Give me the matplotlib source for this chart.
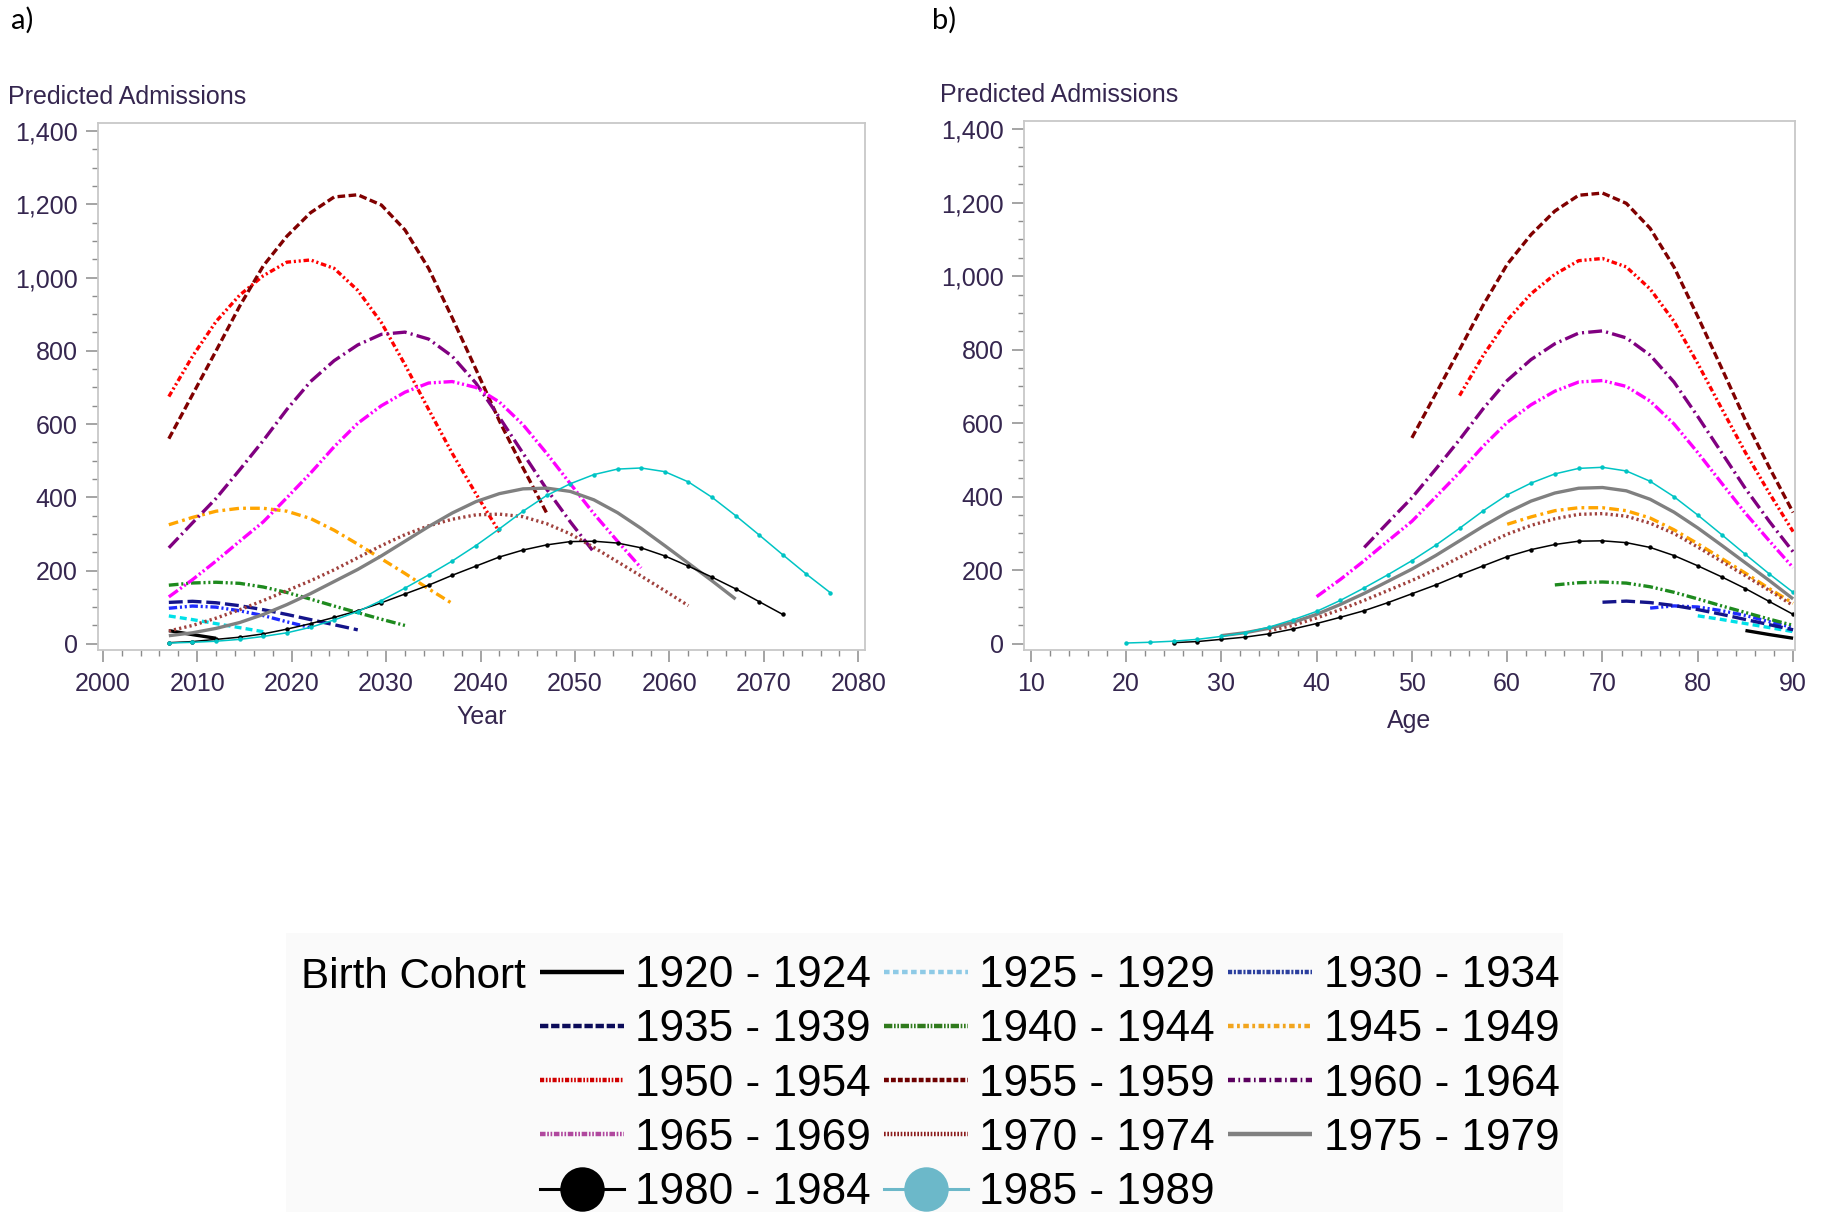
import numpy as np
import matplotlib
matplotlib.use("Agg")
import matplotlib.pyplot as plt
from matplotlib.lines import Line2D
from matplotlib.patches import Rectangle
from matplotlib.ticker import MultipleLocator, FuncFormatter

# ==========================================================
# DATA
# ==========================================================

COHORTS = ["1920 - 1924", "1925 - 1929", "1930 - 1934", "1935 - 1939",
           "1940 - 1944", "1945 - 1949", "1950 - 1954", "1955 - 1959",
           "1960 - 1964", "1965 - 1969", "1970 - 1974", "1975 - 1979",
           "1980 - 1984", "1985 - 1989"]

# birth-year midpoint of each cohort (age + mid = calendar year)
MID = [1922, 1927, 1932, 1937, 1942, 1947, 1952, 1957,
       1962, 1967, 1972, 1977, 1982, 1987]

AGES = [20, 22.5, 25, 27.5, 30, 32.5, 35, 37.5, 40, 42.5, 45, 47.5, 50,
        52.5, 55, 57.5, 60, 62.5, 65, 67.5, 70, 72.5, 75, 77.5, 80, 82.5,
        85, 87.5, 90]

# predicted admissions, aligned to the last ages of AGES
c1920 = [36, 25, 15]
c1925 = [76, 66, 55, 44, 33]
c1930 = [97, 103, 100, 90, 77, 60, 44]
c1935 = [113, 116, 112, 104, 93, 80, 66, 52, 38]
c1940 = [160, 166, 168, 165, 155, 140, 122, 103, 85, 67, 50]
c1945 = [325, 345, 362, 370, 370, 362, 342, 310, 272, 232, 192, 150, 110]
c1950 = [675, 785, 880, 952, 1005, 1042, 1048, 1025, 965, 877, 762, 640,
         520, 410, 305]
c1955 = [560, 680, 800, 922, 1032, 1113, 1177, 1220, 1226, 1198, 1130,
         1025, 890, 750, 608, 480, 357]
c1960 = [262, 330, 397, 475, 555, 640, 716, 773, 816, 845, 851, 832, 785,
         712, 618, 520, 422, 333, 250]
c1965 = [128, 175, 226, 280, 333, 399, 466, 538, 602, 650, 687, 712, 716,
         700, 660, 598, 520, 437, 355, 280, 207]
c1970 = [35, 50, 70, 93, 118, 145, 172, 202, 235, 268, 298, 322, 340, 352,
         354, 347, 328, 300, 263, 224, 185, 145, 104]
c1975 = [22, 30, 42, 58, 80, 107, 137, 170, 203, 240, 280, 320, 357, 388,
         410, 423, 425, 416, 393, 358, 315, 268, 220, 172, 122]
c1980 = [3, 6, 12, 18, 27, 40, 55, 72, 90, 112, 136, 160, 187, 212, 237,
         256, 270, 279, 280, 275, 262, 240, 212, 182, 150, 115, 80]
c1985 = [2, 4, 7, 12, 20, 30, 45, 65, 88, 118, 152, 188, 226, 268, 314,
         362, 405, 437, 462, 477, 480, 470, 442, 400, 350, 297, 243, 190, 140]

VALUES = [c1920, c1925, c1930, c1935, c1940, c1945, c1950, c1955,
          c1960, c1965, c1970, c1975, c1980, c1985]

# ==========================================================
# STYLES
# ==========================================================

PLOT_COLORS = ["#000000", "#00e0e8", "#1f2cff", "#14148a", "#1e8a1e",
               "#ffa500", "#ff0000", "#800000", "#800080", "#ff00ff",
               "#a0413d", "#808080", "#000000", "#00c4c4"]

LEG_COLORS = ["#000000", "#8ecae6", "#2b3f9e", "#0c0c5a", "#2f7a1c",
              "#f2a51e", "#d00000", "#6e0000", "#5a005e", "#b0489e",
              "#8c1c1c", "#808080", "#000000", "#6cb8c9"]

SOLID = (0, ())
DASHES = [SOLID,
          (0, (5, 3)),
          (0, (6, 2, 1.5, 2, 1.5, 2)),
          (0, (10, 3.5)),
          (0, (7, 2, 1.5, 2, 1.5, 2)),
          (0, (7, 3, 2, 3)),
          (0, (4, 2, 1.5, 2, 1.5, 2)),
          (0, (5.5, 2.5)),
          (0, (10, 3, 1.5, 3)),
          (0, (8, 2, 1.5, 2, 1.5, 2)),
          (0, (1.6, 2.2)),
          SOLID, SOLID, SOLID]

LEG_DASHES = [SOLID,
              (0, (4, 2.5)),
              (0, (3, 1.2, 1.5, 1.2)),
              (0, (6, 2)),
              (0, (6, 1.2, 1.2, 1.2, 1.2, 1.2)),
              (0, (4, 2.5, 2, 2.5)),
              (0, (3, 1.2, 1.2, 1.2, 1.2, 1.2)),
              (0, (3.5, 1.5)),
              (0, (5, 2.5, 1.2, 2.5)),
              (0, (4, 1.2, 1.2, 1.2, 1.2, 1.2)),
              (0, (1.2, 1.2)),
              SOLID, SOLID, SOLID]

TXT = "#35264f"
SPINE = "#c8c8c8"
TICK = "#8c8c8c"

plt.rcParams["font.family"] = ["Liberation Sans", "DejaVu Sans"]
plt.rcParams["lines.scale_dashes"] = False

# ==========================================================
# FIGURE
# ==========================================================

fig = plt.figure(figsize=(18.28, 12.12), dpi=100)

ax1 = fig.add_axes([98/1828, 1-650/1212, 767/1828, 527/1212])
ax2 = fig.add_axes([1024/1828, 1-650/1212, 771/1828, 529/1212])

ages = np.array(AGES)

for i in range(len(COHORTS)):
    vals = np.array(VALUES[i], dtype=float)
    a = ages[-len(vals):]
    yrs = a + MID[i]

    if i >= 12:
        kw = dict(lw=1.1, marker="o", ms=2.2)
    else:
        kw = dict(lw=2.4)

    for ax, x in ((ax1, yrs), (ax2, a)):
        ax.plot(x, vals, color=PLOT_COLORS[i], linestyle=DASHES[i],
                solid_capstyle="butt", dash_capstyle="butt", **kw)

# ----------------------------------------------------------
# axes cosmetics
# ----------------------------------------------------------

comma = FuncFormatter(lambda v, p: f"{int(v):,}")

for ax in (ax1, ax2):
    ax.set_ylim(-17, 1422)
    ax.yaxis.set_major_locator(MultipleLocator(200))
    ax.yaxis.set_minor_locator(MultipleLocator(50))
    ax.xaxis.set_major_locator(MultipleLocator(10))
    ax.xaxis.set_minor_locator(MultipleLocator(2))
    ax.yaxis.set_major_formatter(comma)
    for s in ax.spines.values():
        s.set_color(SPINE)
        s.set_linewidth(1.3)
    ax.tick_params(which="major", length=8.5, width=1.1, color=TICK,
                   labelsize=18, labelcolor=TXT)
    ax.tick_params(which="minor", length=4, width=1.0, color=TICK)
    ax.tick_params(axis="y", pad=6)
    ax.tick_params(axis="x", pad=7)

ax1.set_xlim(1999.5, 2080.7)
ax2.set_xlim(9.3, 90.2)

ax1.set_xlabel("Year", fontsize=18, color=TXT, labelpad=7)
ax2.set_xlabel("Age", fontsize=18, color=TXT, labelpad=10)

fig.text(8/1828, 1-104/1212, "Predicted Admissions", fontsize=18,
         color=TXT, ha="left", va="baseline")
fig.text(940/1828, 1-102/1212, "Predicted Admissions", fontsize=18,
         color=TXT, ha="left", va="baseline")

fig.text(11/1828, 1-7/1212, "a)", fontsize=21, family="Lato",
         ha="left", va="top")
fig.text(932/1828, 1-7/1212, "b)", fontsize=21, family="Lato",
         ha="left", va="top")

# ==========================================================
# LEGEND
# ==========================================================

fig.patches.append(Rectangle((286/1828, 0), (1563-286)/1828, 1-933/1212,
                             transform=fig.transFigure, facecolor="#fafafa",
                             edgecolor="none", zorder=0))

handles = []
for i in range(len(COHORTS)):
    if i >= 12:
        h = Line2D([], [], color=LEG_COLORS[i], lw=2.2, marker="o",
                   ms=32, markeredgewidth=0)
    else:
        h = Line2D([], [], color=LEG_COLORS[i], lw=3.2,
                   linestyle=LEG_DASHES[i], dash_capstyle="butt")
    handles.append(h)

order = [0, 3, 6, 9, 12, 1, 4, 7, 10, 13, 2, 5, 8, 11]

fig.legend([handles[k] for k in order], [COHORTS[k] for k in order],
           loc="upper left", bbox_to_anchor=(540/1828, 1-955/1212),
           ncol=3, frameon=False, fontsize=31.8, handlelength=1.9,
           handletextpad=0.26, columnspacing=0.29, labelspacing=0.30,
           borderpad=0, borderaxespad=0)

fig.text(301/1828, 1-977/1212, "Birth Cohort", fontsize=30.3,
         ha="left", va="center")

fig.savefig("out.png", dpi=100)
